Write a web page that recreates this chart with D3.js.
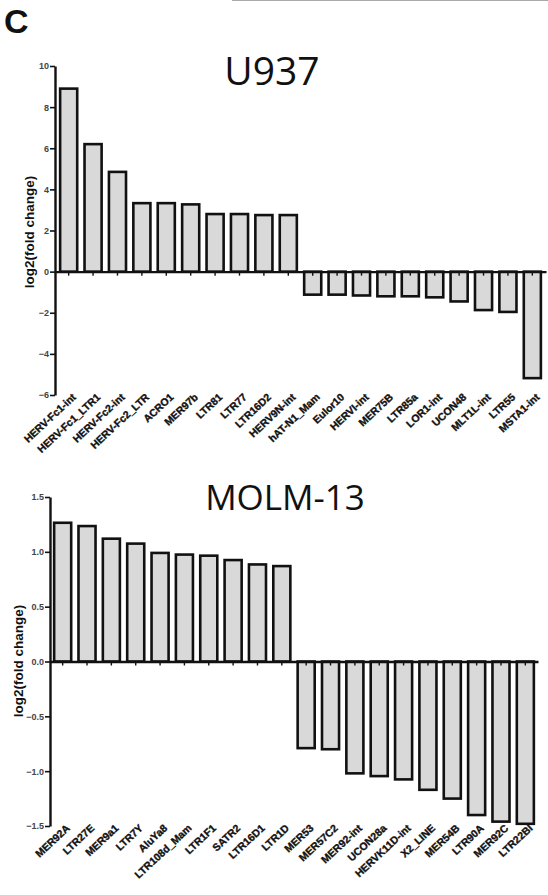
<!DOCTYPE html>
<html>
<head>
<meta charset="utf-8">
<script src="https://cdn.jsdelivr.net/npm/d3@7"></script>
<style>
  html, body { margin: 0; padding: 0; background: #fff; }
  svg { display: block; }
</style>
</head>
<body>
<svg id="chart" width="548" height="895"></svg>
<script>
// ---- Data ----
const u937Categories = ["HERV-Fc1-int","HERV-Fc1_LTR1","HERV-Fc2-int","HERV-Fc2_LTR","ACRO1","MER97b","LTR81","LTR77","LTR16D2","HERV9N-int","hAT-N1_Mam","Eulor10","HERVI-int","MER75B","LTR85a","LOR1-int","UCON48","MLT1L-int","LTR55","MSTA1-int"];
const u937Values = [8.9, 6.2, 4.85, 3.33, 3.33, 3.27, 2.8, 2.8, 2.75, 2.75, -1.12, -1.12, -1.16, -1.2, -1.2, -1.25, -1.45, -1.87, -1.96, -5.18];
const u937Ticks = [-6, -4, -2, 0, 2, 4, 6, 8, 10];

const molmCategories = ["MER92A","LTR27E","MER9a1","LTR7Y","AluYa8","LTR108d_Mam","LTR1F1","SATR2","LTR16D1","LTR1D","MER53","MER57C2","MER92-int","UCON28a","HERVK11D-int","X2_LINE","MER54B","LTR90A","MER92C","LTR22BI"];
const molmValues = [1.265, 1.235, 1.12, 1.075, 0.99, 0.975, 0.965, 0.925, 0.885, 0.87, -0.79, -0.8, -1.02, -1.045, -1.075, -1.17, -1.25, -1.4, -1.46, -1.48];
const molmTicks = [-1.5, -1.0, -0.5, 0.0, 0.5, 1.0, 1.5];

const svg = d3.select("#chart");

// thin cropped line at top (from the neighbouring panel)
svg.append("line").attr("x1", 232).attr("x2", 548).attr("y1", 0.5).attr("y2", 0.5)
  .attr("stroke", "#aaa").attr("stroke-width", 1);

// panel letter
svg.append("text").attr("x", 4).attr("y", 33)
  .attr("font-family", "'Liberation Sans', Arial, sans-serif").attr("font-weight", "bold")
  .attr("font-size", 34).attr("fill", "#111").text("C");

function panel(cfg) {
  const g = svg.append("g");
  const x = d3.scaleBand().domain(cfg.cats).range([cfg.x0, cfg.x1])
    .paddingInner(0.3).paddingOuter(cfg.po);
  const y = d3.scaleLinear().domain(cfg.domain).range([cfg.yBottom, cfg.yTop]);

  // title
  g.append("text").attr("x", cfg.titleX).attr("y", cfg.titleY)
    .attr("text-anchor", "middle")
    .attr("font-family", "'Open Sans', sans-serif").attr("font-size", cfg.titleSize)
    .attr("fill", "#111").text(cfg.title);

  // bars
  g.selectAll("rect.bar").data(cfg.vals).enter().append("rect")
    .attr("class", "bar")
    .attr("x", (d, i) => x(cfg.cats[i]))
    .attr("width", x.bandwidth())
    .attr("y", d => y(Math.max(0, d)))
    .attr("height", d => Math.abs(y(d) - y(0)))
    .attr("fill", "#d9d9d9").attr("stroke", "#111").attr("stroke-width", 2.6);

  // y axis
  const yAxis = g.append("g").attr("transform", `translate(${cfg.x0},0)`)
    .call(d3.axisLeft(y).tickValues(cfg.ticks).tickSize(5).tickSizeOuter(0)
      .tickFormat(cfg.fmt));
  yAxis.select(".domain").attr("stroke", "#111").attr("stroke-width", 2.4);
  yAxis.selectAll(".tick line").attr("stroke", "#111").attr("stroke-width", 1.6);
  yAxis.selectAll(".tick text").attr("font-family", "'Liberation Sans', Arial, sans-serif")
    .attr("font-weight", "bold").attr("font-size", 9).attr("fill", "#444").attr("x", -6);

  // x axis at zero
  const xAxis = g.append("g").attr("transform", `translate(0,${y(0)})`)
    .call(d3.axisBottom(x).tickSize(4).tickSizeOuter(0).tickFormat(""));
  xAxis.select(".domain").attr("stroke", "#111").attr("stroke-width", 2.4);
  xAxis.selectAll(".tick line").attr("stroke", "#111").attr("stroke-width", 1.4);

  // category labels
  g.selectAll("text.cat").data(cfg.cats).enter().append("text")
    .attr("class", "cat")
    .attr("transform", d => `translate(${x(d) + x.bandwidth() / 2 + 8},${cfg.yBottom + 3}) rotate(-43)`)
    .attr("text-anchor", "end")
    .attr("font-family", "'Liberation Sans', Arial, sans-serif")
    .attr("font-weight", "bold").attr("font-size", 10.5).attr("fill", "#111")
    .attr("stroke", "#111").attr("stroke-width", 0.35)
    .text(d => d);

  // y title
  g.append("text")
    .attr("transform", `translate(${cfg.ytX},${cfg.ytY}) rotate(-90)`)
    .attr("text-anchor", "middle")
    .attr("font-family", "'Liberation Sans', Arial, sans-serif")
    .attr("font-weight", "bold").attr("font-size", 13.5).attr("fill", "#111")
    .text("log2(fold change)");
}

panel({
  cats: u937Categories, vals: u937Values, ticks: u937Ticks,
  domain: [-6, 10], yBottom: 395, yTop: 66, x0: 55, x1: 546, po: 0.21,
  fmt: d3.format("d"),
  title: "U937", titleX: 272, titleY: 85, titleSize: 39,
  ytX: 34, ytY: 232
});

panel({
  cats: molmCategories, vals: molmValues, ticks: molmTicks,
  domain: [-1.5, 1.5], yBottom: 826, yTop: 497, x0: 50, x1: 538, po: 0.17,
  fmt: d3.format(".1f"),
  title: "MOLM-13", titleX: 285, titleY: 510, titleSize: 35,
  ytX: 23, ytY: 661
});
</script>
</body>
</html>
